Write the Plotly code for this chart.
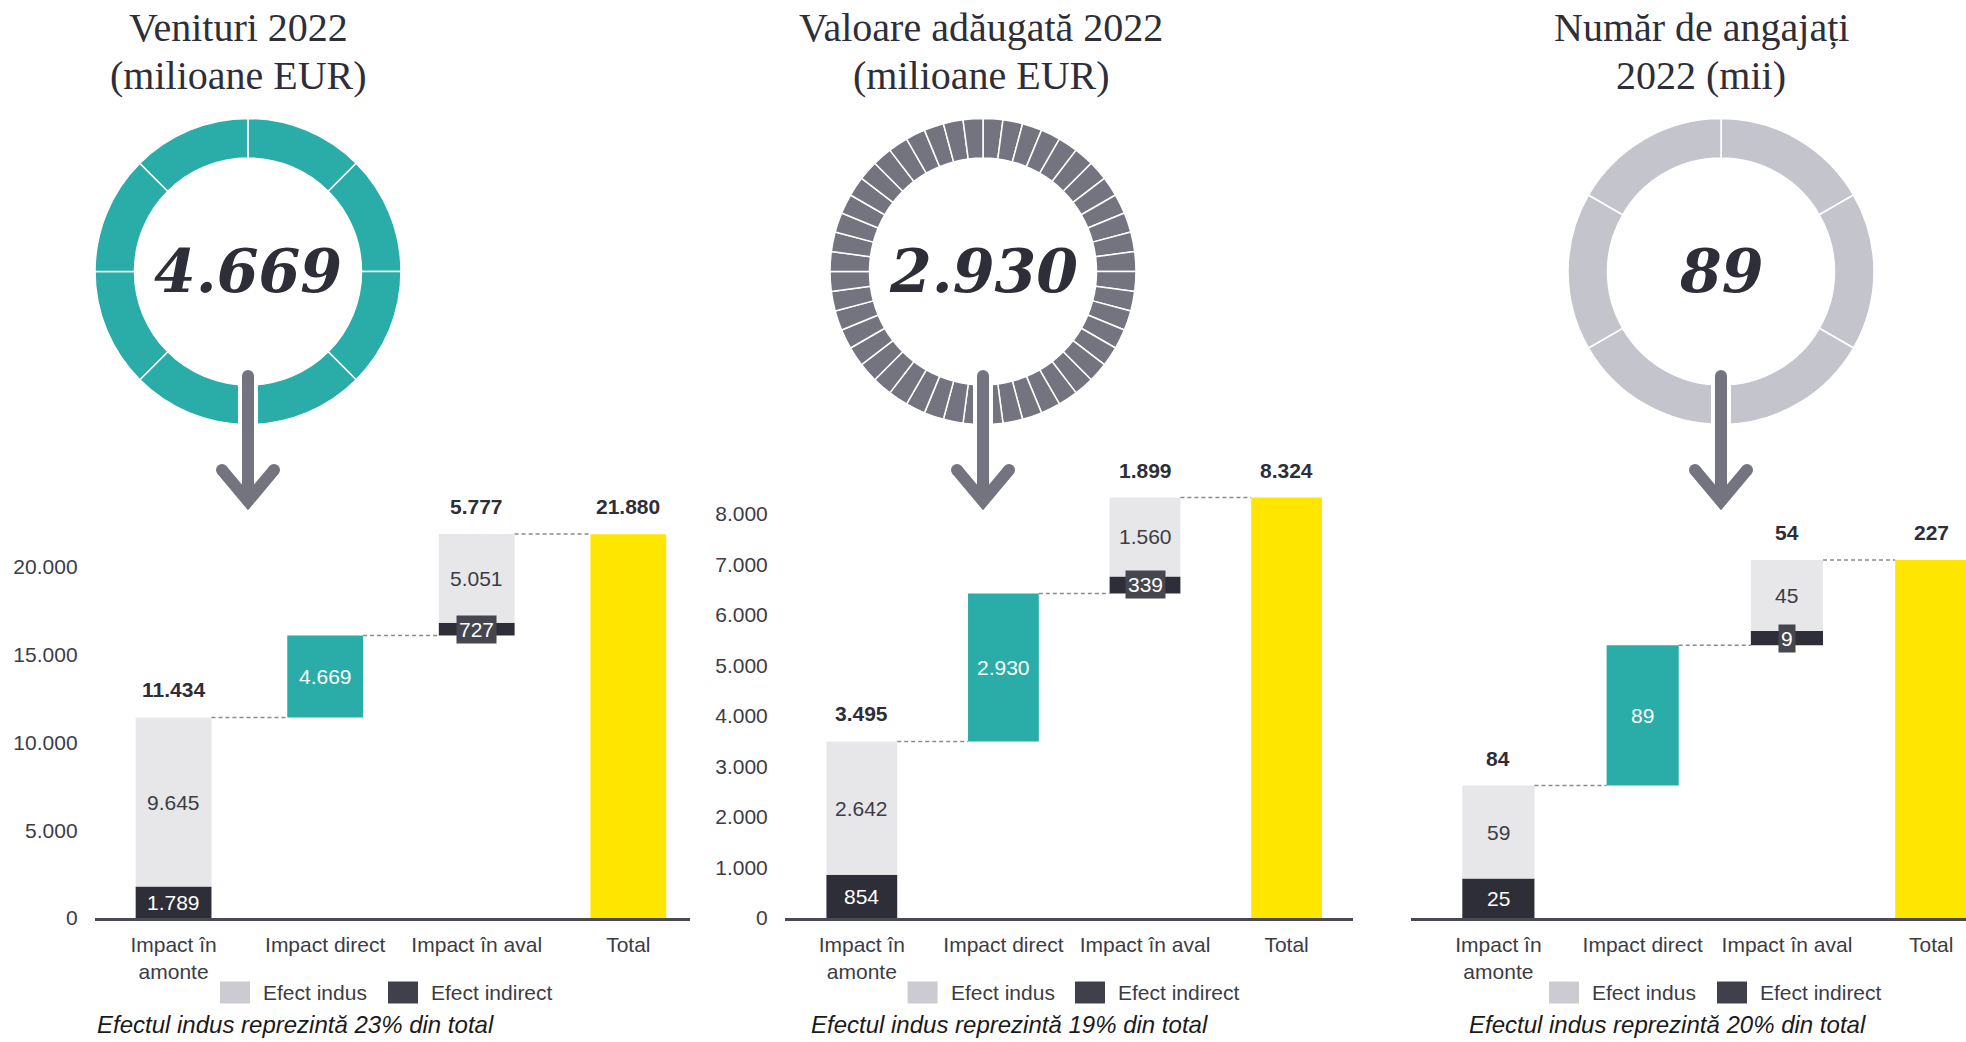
import plotly.graph_objects as go

W, H = 1966, 1042

# ---------------- data ----------------
categories = ["Impact în<br>amonte", "Impact direct", "Impact în aval", "Total"]
series_names = ["Efect indus", "Efect indirect"]

# Venituri 2022 (milioane EUR)
rev_indirect = [1789, 727]          # amonte, aval
rev_induced = [9645, 5051]          # amonte, aval
rev_direct = 4669
rev_stage_totals = [11434, 5777]    # amonte, aval
rev_total = 21880
rev_ticks = [0, 5000, 10000, 15000, 20000]

# Valoare adăugată 2022 (milioane EUR)
va_indirect = [854, 339]
va_induced = [2642, 1560]
va_direct = 2930
va_stage_totals = [3495, 1899]
va_total = 8324
va_ticks = [0, 1000, 2000, 3000, 4000, 5000, 6000, 7000, 8000]

# Număr de angajați 2022 (mii)
emp_indirect = [25, 9]
emp_induced = [59, 45]
emp_direct = 89
emp_stage_totals = [84, 54]
emp_total = 227
emp_ticks = []

induced_share_pct = [23, 19, 20]
titles = [("Venituri 2022", "(milioane EUR)"),
          ("Valoare adăugată 2022", "(milioane EUR)"),
          ("Număr de angajați", "2022 (mii)")]

# ---------------- styles ----------------
SANS = "Liberation Sans, Arial, sans-serif"
SERIF = "Liberation Serif, Times New Roman, serif"
NUM_SERIF = "DejaVu Serif, serif"
TXT_SIZE = 21
DARK_TXT = "#2e2e38"
GREY_TXT = "#3c3c44"
C_INDIRECT = "#2e2e38"
C_INDUCED = "#e7e7ea"
C_TEAL = "#2aaca8"
C_YELLOW = "#ffe600"
C_ARROW = "#747480"
LEG_LIGHT = "#cbcbd1"
LEG_DARK = "#40404a"
LABEL_BOX = "#46464f"


def fmt(v):
    return f"{v:,}".replace(",", ".")


def px(x):
    return x / W


def py(y):
    return 1 - y / H


panels = [
    dict(ind=rev_indirect, indus=rev_induced, direct=rev_direct, stage=rev_stage_totals,
         total=rev_total, ticks=rev_ticks, xdom=(94.6, 690), xrange=(-0.521, 3.407),
         ytop=28500, cx=248, title_x=238, ring_n=8, ring_color=C_TEAL,
         legend=(220, 388), note_x=95),
    dict(ind=va_indirect, indus=va_induced, direct=va_direct, stage=va_stage_totals,
         total=va_total, ticks=va_ticks, xdom=(784.8, 1353), xrange=(-0.544, 3.469),
         ytop=9900, cx=983, title_x=981, ring_n=48, ring_color=C_ARROW,
         legend=(907.6, 1075), note_x=809),
    dict(ind=emp_indirect, indus=emp_induced, direct=emp_direct, stage=emp_stage_totals,
         total=emp_total, ticks=emp_ticks, xdom=(1410.8, 1966), xrange=(-0.607, 3.241),
         ytop=317, cx=1721, title_x=1701, ring_n=6, ring_color="#c4c4cd",
         legend=(1549, 1717), note_x=1467),
]

PLOT_BOTTOM, PLOT_TOP = 918, 418
RING_CY, R_OUT, R_IN = 271.5, 153, 113.5
BAR_W = 0.5

fig = go.Figure()
annotations = []
shapes = []
layout_axes = {}

i_up, i_dir, i_down, i_tot = 0, 1, 2, 3


def paper_text(x, y, text, font, xanchor="center", **kw):
    return dict(x=px(x), y=py(y), xref="paper", yref="paper", text=text,
                showarrow=False, xanchor=xanchor, yanchor="middle", font=font, **kw)


for k, p in enumerate(panels):
    n = "" if k == 0 else str(k + 1)
    xa, ya = "x" + n, "y" + n

    down_base = p["stage"][0] + p["direct"]
    # indirect effect (dark)
    fig.add_trace(go.Bar(
        x=[i_up, i_down], y=p["ind"], base=[0, down_base], width=BAR_W,
        marker=dict(color=C_INDIRECT, line=dict(width=0)), xaxis=xa, yaxis=ya,
        showlegend=False, hoverinfo="skip"))
    # induced effect (light)
    fig.add_trace(go.Bar(
        x=[i_up, i_down], y=p["indus"], base=[p["ind"][0], down_base + p["ind"][1]],
        width=BAR_W, marker=dict(color=C_INDUCED, line=dict(width=0)),
        xaxis=xa, yaxis=ya, showlegend=False, hoverinfo="skip"))
    # direct impact
    fig.add_trace(go.Bar(
        x=[i_dir], y=[p["direct"]], base=[p["stage"][0]], width=BAR_W,
        marker=dict(color=C_TEAL, line=dict(width=0)), xaxis=xa, yaxis=ya,
        showlegend=False, hoverinfo="skip"))
    # total
    fig.add_trace(go.Bar(
        x=[i_tot], y=[p["total"]], width=BAR_W,
        marker=dict(color=C_YELLOW, line=dict(width=0)), xaxis=xa, yaxis=ya,
        showlegend=False, hoverinfo="skip"))

    # dashed connectors between steps
    levels = [p["stage"][0], down_base, down_base + p["ind"][1] + p["indus"][1]]
    for j, lv in enumerate(levels):
        fig.add_trace(go.Scatter(
            x=[j + BAR_W / 2, j + 1 - BAR_W / 2], y=[lv, lv], mode="lines",
            line=dict(color="#8a8a90", width=1.5, dash="4px,3px"),
            xaxis=xa, yaxis=ya, showlegend=False, hoverinfo="skip"))

    # axes
    layout_axes["xaxis" + n] = dict(
        domain=[px(p["xdom"][0]), px(p["xdom"][1])], range=list(p["xrange"]),
        anchor=ya, tickvals=list(range(len(categories))), ticktext=categories,
        showline=True, linecolor="#4a4a52", linewidth=2.5, ticks="",
        showgrid=False, zeroline=False, fixedrange=True, automargin=False,
        tickfont=dict(family=SANS, size=TXT_SIZE, color=GREY_TXT), ticklabelstandoff=6)
    layout_axes["yaxis" + n] = dict(
        domain=[py(PLOT_BOTTOM), py(PLOT_TOP)], range=[0, p["ytop"]], anchor=xa,
        tickvals=p["ticks"], ticktext=[fmt(t) for t in p["ticks"]],
        showticklabels=bool(p["ticks"]), showgrid=False, zeroline=False,
        showline=False, ticks="", fixedrange=True, automargin=False,
        tickfont=dict(family=SANS, size=TXT_SIZE, color=GREY_TXT), ticklabelstandoff=16)

    # value labels inside segments
    def seg_label(xi, mid, val, color):
        annotations.append(dict(x=xi, y=mid, xref=xa, yref=ya, text=fmt(val),
                                xanchor="center", yanchor="middle", showarrow=False,
                                font=dict(family=SANS, size=TXT_SIZE, color=color)))

    seg_label(i_up, p["ind"][0] / 2, p["ind"][0], "white")
    seg_label(i_up, p["ind"][0] + p["indus"][0] / 2, p["indus"][0], GREY_TXT)
    seg_label(i_dir, p["stage"][0] + p["direct"] / 2, p["direct"], "white")
    seg_label(i_down, down_base + p["ind"][1] + p["indus"][1] / 2, p["indus"][1], GREY_TXT)
    # small indirect segment downstream: boxed label
    annotations.append(dict(x=i_down, y=down_base + p["ind"][1] / 2, xref=xa, yref=ya,
                            text=fmt(p["ind"][1]), showarrow=False, bgcolor=LABEL_BOX,
                            xanchor="center", yanchor="middle", borderpad=2,
                            font=dict(family=SANS, size=TXT_SIZE, color="white")))

    # bold totals above bars
    tops = [(i_up, p["ind"][0] + p["indus"][0], p["stage"][0]),
            (i_down, levels[2], p["stage"][1]),
            (i_tot, p["total"], p["total"])]
    for xi, top, val in tops:
        annotations.append(dict(x=xi, y=top, xref=xa, yref=ya, text=fmt(val),
                                showarrow=False, xanchor="center", yanchor="bottom", yshift=14,
                                font=dict(family=SANS, size=TXT_SIZE, color=DARK_TXT,
                                          weight="bold")))

    # ring with the direct figure
    cx = p["cx"]
    fig.add_trace(go.Pie(
        values=[1] * p["ring_n"], hole=R_IN / R_OUT, sort=False, direction="clockwise",
        rotation=0, textinfo="none", hoverinfo="skip", showlegend=False,
        marker=dict(colors=[p["ring_color"]] * p["ring_n"], line=dict(color="white", width=1.5)),
        domain=dict(x=[px(cx - R_OUT), px(cx + R_OUT)],
                    y=[py(RING_CY + R_OUT), py(RING_CY - R_OUT)])))
    annotations.append(paper_text(cx, RING_CY, fmt(p["direct"]),
                                  dict(family=NUM_SERIF, size=60, color=DARK_TXT,
                                       weight="bold", style="italic")))

    # gap in the ring and the arrow pointing to the chart
    shapes.append(dict(type="rect", xref="paper", yref="paper",
                       x0=px(cx - 10), x1=px(cx + 10),
                       y0=py(RING_CY + R_OUT + 3), y1=py(RING_CY + R_IN - 3),
                       fillcolor="white", line=dict(width=0)))
    shapes.append(dict(type="line", xref="paper", yref="paper",
                       x0=px(cx), x1=px(cx), y0=py(376), y1=py(500),
                       line=dict(color=C_ARROW, width=12)))
    shapes.append(dict(type="path", xref="paper", yref="paper",
                       path=f"M {px(cx - 26)},{py(470)} L {px(cx)},{py(501)} L {px(cx + 26)},{py(470)}",
                       line=dict(color=C_ARROW, width=12)))
    for (ex, ey) in [(cx, 376), (cx - 26, 470), (cx + 26, 470)]:
        shapes.append(dict(type="circle", xref="paper", yref="paper",
                           x0=px(ex - 6), x1=px(ex + 6), y0=py(ey + 6), y1=py(ey - 6),
                           fillcolor=C_ARROW, line=dict(width=0)))

    # titles
    for line_text, yy in zip(titles[k], (27.6, 75)):
        annotations.append(paper_text(p["title_x"], yy, line_text,
                                      dict(family=SERIF, size=40, color=DARK_TXT)))

    # legend
    for lx, col, name in zip(p["legend"], (LEG_LIGHT, LEG_DARK), series_names):
        shapes.append(dict(type="rect", xref="paper", yref="paper",
                           x0=px(lx), x1=px(lx + 30), y0=py(1003.5), y1=py(981.5),
                           fillcolor=col, line=dict(width=0)))
        annotations.append(paper_text(lx + 41, 992.5, name,
                                      dict(family=SANS, size=TXT_SIZE, color=GREY_TXT),
                                      xanchor="left"))

    # footnote
    annotations.append(paper_text(p["note_x"], 1024,
                                  f"Efectul indus reprezintă {induced_share_pct[k]}% din total",
                                  dict(family=SANS, size=24, color="#1a1a1a", style="italic"),
                                  xanchor="left"))

fig.update_layout(
    width=W, height=H, autosize=False,
    margin=dict(l=0, r=0, t=0, b=0, pad=0, autoexpand=False),
    paper_bgcolor="white", plot_bgcolor="white",
    barmode="overlay", separators=",.",
    annotations=annotations, shapes=shapes, **layout_axes)

fig.write_html("out.html", config={"displayModeBar": False})
